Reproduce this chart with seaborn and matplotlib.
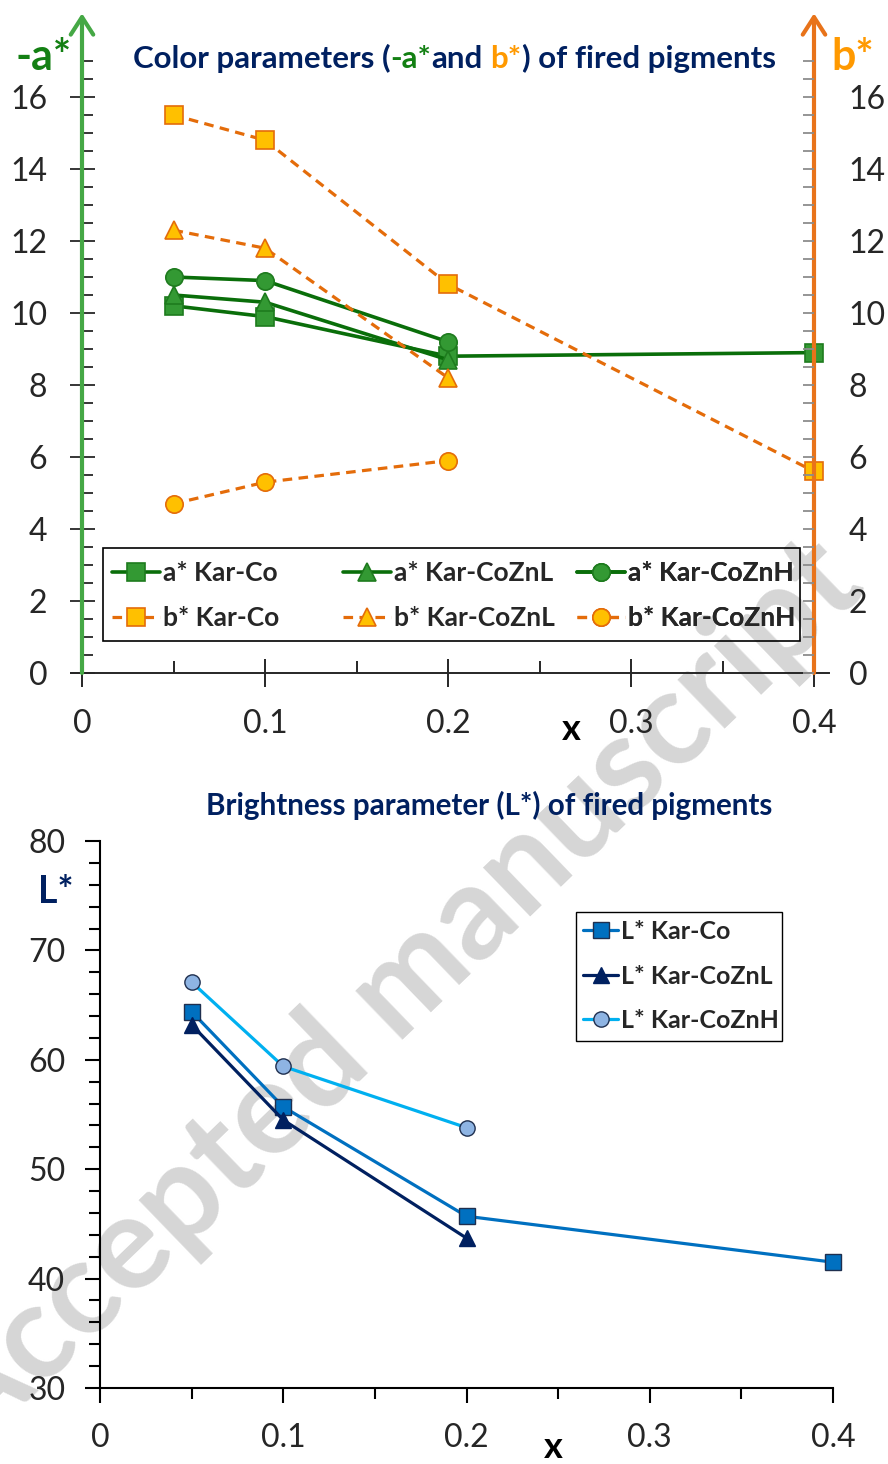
import numpy as np
import pandas as pd
import matplotlib
matplotlib.use("Agg")
import matplotlib.pyplot as plt
import seaborn as sns
from matplotlib.ticker import MultipleLocator
from matplotlib.patches import Rectangle

# ---------------- data ----------------
x_co = [0.05, 0.1, 0.2, 0.4]
x_zn = [0.05, 0.1, 0.2]

a_co = [10.2, 9.9, 8.8, 8.9]
a_znl = [10.5, 10.3, 8.7]
a_znh = [11.0, 10.9, 9.2]
b_co = [15.5, 14.8, 10.8, 5.6]
b_znl = [12.3, 11.8, 8.2]
b_znh = [4.7, 5.3, 5.9]

L_co = [64.4, 55.7, 45.7, 41.5]
L_znl = [63.2, 54.5, 43.7]
L_znh = [67.1, 59.4, 53.8]

x_ticklabels = ["0", "0.1", "0.2", "0.3", "0.4"]

labels_top = ["a* Kar-Co", "a* Kar-CoZnL", "a* Kar-CoZnH",
              "b* Kar-Co", "b* Kar-CoZnL", "b* Kar-CoZnH"]
labels_bot = ["L* Kar-Co", "L* Kar-CoZnL", "L* Kar-CoZnH"]

# ---------------- style ----------------
sns.set_style("ticks")
plt.rcParams["font.family"] = ["Lato", "DejaVu Sans"]

W, H = 888, 1464
fig = plt.figure(figsize=(W / 100, H / 100), dpi=100)

NAVY = "#002060"
G_LINE = "#0A6E0A"
G_FILL = "#339933"
G_EDGE = "#1E7B1E"
G_AXIS = "#45A845"
G_TXT = "#138013"
O_LINE = "#E46C0A"
O_FILL = "#FFC000"
O_AXIS = "#E8731A"
O_TXT = "#FF9900"

# watermark (behind everything)
fig.text(395 / W, 1 - 995 / H, "Accepted manuscript", rotation=44,
         fontsize=95, fontweight="bold", color="#D6D6D6",
         ha="center", va="center", zorder=-5)

# ================= top chart =================
ax1 = fig.add_axes([82 / W, 1 - 673 / H, 732 / W, 612 / H])
ax1.patch.set_alpha(0)
ax1.set_xlim(0, 0.4)
ax1.set_ylim(0, 17)

top_series = [
    (x_co, a_co, "s", G_LINE, G_FILL, G_EDGE, "-", labels_top[0]),
    (x_zn, a_znl, "^", G_LINE, G_FILL, G_EDGE, "-", labels_top[1]),
    (x_zn, a_znh, "o", G_LINE, G_FILL, G_EDGE, "-", labels_top[2]),
    (x_co, b_co, "s", O_LINE, O_FILL, O_LINE, (0, (3, 2)), labels_top[3]),
    (x_zn, b_znl, "^", O_LINE, O_FILL, O_LINE, (0, (3, 2)), labels_top[4]),
    (x_zn, b_znh, "o", O_LINE, O_FILL, O_LINE, (0, (3, 2)), labels_top[5]),
]
for xs, ys, mk, lc, fc, ec, ls, lab in top_series:
    df = pd.DataFrame({"x": xs, "y": ys})
    lw = 2.6 if ls == "-" else 2.3
    sns.lineplot(data=df, x="x", y="y", ax=ax1, color=lc, marker=mk,
                 markersize=12.5, markerfacecolor=fc, markeredgecolor=ec,
                 markeredgewidth=1.2, linestyle=ls, linewidth=lw,
                 label=lab, legend=False, zorder=3, clip_on=False)

ax1.set_xlabel("")
ax1.set_ylabel("")
ax1.set_xticks(np.arange(0, 0.41, 0.1))
ax1.set_xticklabels(x_ticklabels)
ax1.xaxis.set_minor_locator(MultipleLocator(0.05))
ax1.yaxis.set_major_locator(MultipleLocator(2))
ax1.yaxis.set_minor_locator(MultipleLocator(0.5))

for s in ["top", "left", "right"]:
    ax1.spines[s].set_visible(False)
ax1.spines["bottom"].set_color("#262626")
ax1.spines["bottom"].set_linewidth(1.4)
ax1.spines["bottom"].set_bounds(-0.006, 0.408)

ax1.tick_params(axis="x", which="major", direction="inout", length=20,
                width=1.4, color="#262626", labelsize=23, pad=16)
ax1.tick_params(axis="x", which="minor", direction="in", length=9,
                width=1.4, color="#262626")
ax1.tick_params(axis="y", which="major", direction="inout", length=18,
                width=1.3, color="#262626", labelsize=23, pad=16)
ax1.tick_params(axis="y", which="minor", direction="in", length=8,
                width=1.3, color="#262626")

# right axis (same scale, b*)
ax1r = ax1.twinx()
ax1r.set_ylim(0, 17)
ax1r.yaxis.set_major_locator(MultipleLocator(2))
ax1r.yaxis.set_minor_locator(MultipleLocator(0.5))
for s in ["top", "left", "right", "bottom"]:
    ax1r.spines[s].set_visible(False)
ax1r.tick_params(axis="y", which="major", direction="in", length=8,
                 width=1.3, color="#8C8C8C", labelsize=23, pad=25)
ax1r.tick_params(axis="y", which="minor", direction="in", length=8,
                 width=1.3, color="#8C8C8C")

# arrows for the two y axes
for xa, col in [(0, G_AXIS), (1, O_AXIS)]:
    ax1.annotate("", xy=(xa, 1.078), xytext=(xa, 0), xycoords="axes fraction",
                 arrowprops=dict(arrowstyle="->,head_length=0.7,head_width=0.45",
                                 color=col, lw=3, mutation_scale=18,
                                 shrinkA=0, shrinkB=0), annotation_clip=False)

# legend: three fixed-width columns inside one frame
h, l = ax1.get_legend_handles_labels()
col_x_px = [112, 343, 577]
for ci, xpx in enumerate(col_x_px):
    lg = ax1.legend([h[ci], h[ci + 3]], [l[ci], l[ci + 3]],
                    loc="upper left",
                    bbox_to_anchor=((xpx - 82) / 732, (673 - 561) / 612),
                    borderaxespad=0, borderpad=0, frameon=False,
                    prop=dict(weight="bold", size=19), handlelength=1.8,
                    handletextpad=0.12, labelspacing=0.8)
    ax1.add_artist(lg)
ax1.add_patch(Rectangle(((103 - 82) / 732, (673 - 641) / 612), 697 / 732,
                        93 / 612, transform=ax1.transAxes, fill=False,
                        edgecolor="black", linewidth=1.2, clip_on=False,
                        zorder=5))

# ================= bottom chart =================
ax2 = fig.add_axes([100 / W, 1 - 1388 / H, 733 / W, 547 / H])
ax2.patch.set_alpha(0)
ax2.set_xlim(0, 0.4)
ax2.set_ylim(30, 80)

bot_series = [
    (x_co, L_co, "s", "#0070C0", "#0070C0", "#1F2F4F", labels_bot[0]),
    (x_zn, L_znl, "^", NAVY, NAVY, NAVY, labels_bot[1]),
    (x_zn, L_znh, "o", "#00B0F0", "#8EB4E3", "#1F2F4F", labels_bot[2]),
]
for xs, ys, mk, lc, fc, ec, lab in bot_series:
    df = pd.DataFrame({"x": xs, "y": ys})
    sns.lineplot(data=df, x="x", y="y", ax=ax2, color=lc, marker=mk,
                 markersize=11, markerfacecolor=fc, markeredgecolor=ec,
                 markeredgewidth=1.0, linewidth=2.3, label=lab,
                 legend=False, zorder=3, clip_on=False)

ax2.set_xlabel("")
ax2.set_ylabel("")
ax2.set_xticks(np.arange(0, 0.41, 0.1))
ax2.set_xticklabels(x_ticklabels)
ax2.xaxis.set_minor_locator(MultipleLocator(0.05))
ax2.yaxis.set_major_locator(MultipleLocator(10))
ax2.yaxis.set_minor_locator(MultipleLocator(2))
for s in ["top", "right"]:
    ax2.spines[s].set_visible(False)
for s in ["left", "bottom"]:
    ax2.spines[s].set_color("black")
    ax2.spines[s].set_linewidth(1.5)
ax2.tick_params(axis="both", which="major", direction="out", length=11,
                width=1.5, color="black", labelsize=23)
ax2.tick_params(axis="x", which="major", pad=14)
ax2.tick_params(axis="y", which="major", pad=14)
ax2.tick_params(axis="both", which="minor", direction="out", length=8,
                width=1.5, color="black")

h2, l2 = ax2.get_legend_handles_labels()
leg2 = ax2.legend(h2, l2, loc="upper left",
                  bbox_to_anchor=((583 - 100) / 733, (1388 - 920) / 547),
                  borderaxespad=0, borderpad=0, frameon=False,
                  prop=dict(weight="bold", size=18), handlelength=1.4,
                  handletextpad=0.1, labelspacing=0.86)
ax2.add_patch(Rectangle(((576 - 100) / 733, (1388 - 1041) / 547), 206 / 733,
                        129 / 547, transform=ax2.transAxes, fill=False,
                        edgecolor="black", linewidth=1.0, clip_on=False,
                        zorder=5))

# ================= texts =================
renderer = fig.canvas.get_renderer()


def text_w(s, size):
    t = fig.text(0, 0, s, fontsize=size, fontweight="bold")
    w = t.get_window_extent(renderer).width
    t.remove()
    return w


def colored_line(x_px, base_px, parts, size):
    sp = text_w("a a", size) - text_w("aa", size)
    x = x_px
    for s, c in parts:
        lead = len(s) - len(s.lstrip(" "))
        x += lead * sp
        s2 = s.strip(" ")
        t = fig.text(x / W, 1 - base_px / H, s2, color=c, fontsize=size,
                     fontweight="bold", ha="left", va="baseline")
        x += t.get_window_extent(renderer).width
        trail = len(s) - len(s.rstrip(" "))
        x += trail * sp


colored_line(133, 68, [("Color parameters (", NAVY), ("-a*", G_TXT),
                       ("and", NAVY), (" b*", O_TXT),
                       (") of fired pigments", NAVY)], 22.5)

fig.text(15 / W, 1 - 70 / H, "-a*", color=G_TXT, fontsize=31,
         fontweight="bold", ha="left", va="baseline")
fig.text(831 / W, 1 - 70 / H, "b*", color=O_TXT, fontsize=31,
         fontweight="bold", ha="left", va="baseline")
fig.text(571 / W, 1 - 730 / H, "x", color="black", fontsize=26,
         fontweight="bold", ha="center", va="center")

colored_line(206, 815, [("Brightness parameter (L*) of fired pigments",
                         NAVY)], 21.3)
fig.text(38 / W, 1 - 903 / H, "L*", color=NAVY, fontsize=27,
         fontweight="bold", ha="left", va="baseline")
fig.text(553 / W, 1 - 1447 / H, "x", color="black", fontsize=26,
         fontweight="bold", ha="center", va="center")

fig.savefig("out.png", dpi=100)
